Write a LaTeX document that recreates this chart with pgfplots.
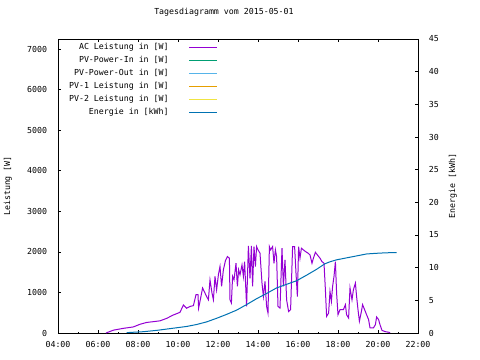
\documentclass[border=0pt]{standalone}
\usepackage{fontspec}
\setmainfont{DejaVu Sans Mono}
\usepackage{pgfplots}
\pgfplotsset{compat=1.18}
\definecolor{cac}{HTML}{9400D3}
\definecolor{cin}{HTML}{009E73}
\definecolor{cout}{HTML}{56B4E9}
\definecolor{cpva}{HTML}{E69F00}
\definecolor{cpvb}{HTML}{F0E442}
\definecolor{cen}{HTML}{0072B2}
\newcommand{\gf}{\fontsize{8.3}{10}\selectfont}
\begin{document}
\gf
\begin{tikzpicture}
\useasboundingbox (-58bp,-27bp) rectangle (422bp,333bp);
\begin{axis}[at={(0,0)},anchor=south west,scale only axis,width=360bp,height=294bp,
  xmin=4,xmax=22,ymin=0,ymax=7250,
  xtick={4,6,...,22},
  xticklabels={04:00,06:00,08:00,10:00,12:00,14:00,16:00,18:00,20:00,22:00},
  minor xtick={5,7,...,21},
  ytick={0,1000,...,7000},
  ytick pos=left, xtick pos=both,
  tick align=inside,
  major tick length=3bp, minor tick length=1.5bp,
  scaled y ticks=false,
  /pgf/number format/1000 sep={},
  /pgf/number format/assume math mode=true,
  every tick label/.append style={font=\gf},
  xticklabel style={yshift=-5bp},
  yticklabel style={xshift=-8bp},
  axis line style={line width=0.8bp},
  every tick/.append style={line width=0.6bp,black},
  ylabel={Leistung [W]},
  every axis y label/.style={at={(axis description cs:-0.139,0.5)},rotate=90,anchor=center,font=\gf},
  title={Tagesdiagramm vom 2015-05-01},
  title style={at={(axis description cs:0.461,1.071)},anchor=center,font=\gf},
  legend cell align=right,
  legend plot pos=right,
  legend image code/.code={\draw[#1,line width=1bp] (0bp,0bp) -- (28bp,0bp);},
  legend style={at={(axis description cs:0.444,0.995)},anchor=north east,draw=none,fill=none,
    font=\gf,inner sep=0pt,row sep=0pt,
    nodes={inner ysep=2.3bp,text height=6.3bp,text depth=2.1bp},
    /tikz/every odd column/.append style={column sep=18bp}},
]
\addplot[cac,line width=1bp] coordinates {
(6.40,0) (6.77,70) (7.27,115) (7.77,150) (8.10,215) (8.43,260) (8.77,280) (9.10,300)
(9.43,360) (9.77,445) (10.10,510) (10.27,690) (10.43,610) (10.60,655) (10.77,675)
(10.90,945) (11.00,945) (11.03,615) (11.10,780) (11.23,1110) (11.43,900) (11.52,820)
(11.60,1310) (11.70,985) (11.77,820) (11.85,1395) (11.93,1065) (12.02,1435) (12.10,1640)
(12.18,1150) (12.27,1560) (12.37,1780) (12.47,1885) (12.57,1845) (12.60,820) (12.67,740)
(12.73,1395) (12.80,1310) (12.90,1720) (12.97,1150) (13.03,1560) (13.10,1435) (13.20,1680)
(13.27,1395) (13.33,1760) (13.43,655) (13.52,2150) (13.60,1350) (13.67,2150) (13.73,1150)
(13.80,2130) (13.87,1640) (13.93,2130) (14.00,2050) (14.10,1970) (14.20,1230) (14.27,900)
(14.35,1270) (14.43,655) (14.50,490) (14.57,2130) (14.63,2050) (14.73,2130) (14.80,1720)
(14.87,2050) (14.93,1885) (15.00,655) (15.10,615) (15.20,2090) (15.27,1150) (15.35,1805)
(15.43,820) (15.53,530) (15.63,575) (15.73,2130) (15.83,2130) (15.90,1475) (15.97,900)
(16.03,2130) (16.10,1845) (16.17,2090) (16.27,2050) (16.37,2010) (16.50,1970) (16.60,1925)
(16.70,1720) (16.77,1845) (16.87,1990) (16.97,1925) (17.10,1845) (17.20,1760) (17.30,1720)
(17.37,1065) (17.43,410) (17.53,490) (17.60,1025) (17.67,780) (17.73,1150) (17.80,1395)
(17.87,1760) (17.93,985) (18.00,450) (18.10,575) (18.27,575) (18.37,700) (18.43,450)
(18.53,370) (18.60,1110) (18.70,820) (18.77,1065) (18.87,1230) (18.93,900) (19.00,575)
(19.07,290) (19.17,530) (19.23,700) (19.33,575) (19.43,450) (19.53,330) (19.60,125)
(19.77,125) (19.87,205) (19.93,395) (20.03,330) (20.10,205) (20.20,65) (20.35,35)
(20.57,15) (20.60,0)
};
\addlegendentry{AC Leistung in [W]}
\addlegendimage{cin}\addlegendentry{PV-Power-In in [W]}
\addlegendimage{cout}\addlegendentry{PV-Power-Out in [W]}
\addlegendimage{cpva}\addlegendentry{PV-1 Leistung in [W]}
\addlegendimage{cpvb}\addlegendentry{PV-2 Leistung in [W]}
\addlegendimage{cen}\addlegendentry{Energie in [kWh]}
\end{axis}
\begin{axis}[at={(0,0)},anchor=south west,scale only axis,width=360bp,height=294bp,
  xmin=4,xmax=22,ymin=0,ymax=45,
  axis y line*=right, axis x line=none,
  ytick={0,5,...,45},
  tick align=inside, major tick length=3bp,
  /pgf/number format/assume math mode=true,
  every tick label/.append style={font=\gf},
  yticklabel style={xshift=8bp},
  axis line style={line width=0.8bp},
  every tick/.append style={line width=0.6bp,black},
  ylabel={Energie [kWh]},
  every axis y label/.style={at={(axis description cs:1.097,0.5)},rotate=90,anchor=center,font=\gf},
]
\addplot[cen,line width=1bp] coordinates {
(7.43,0.05) (7.80,0.12) (8.27,0.2) (8.60,0.3) (8.93,0.4) (9.43,0.6) (9.93,0.8) (10.43,1.0)
(10.93,1.3) (11.43,1.7) (11.93,2.25) (12.43,2.85) (12.93,3.5) (13.43,4.35) (13.93,5.25)
(14.43,6.05) (14.93,6.9) (15.43,7.45) (15.93,8.0) (16.43,8.85) (16.93,9.75) (17.15,10.2)
(17.35,10.6) (17.60,10.9) (17.93,11.2) (18.43,11.5) (18.93,11.8) (19.43,12.1) (19.93,12.2)
(20.43,12.28) (20.93,12.3)
};
\end{axis}
\end{tikzpicture}
\end{document}
